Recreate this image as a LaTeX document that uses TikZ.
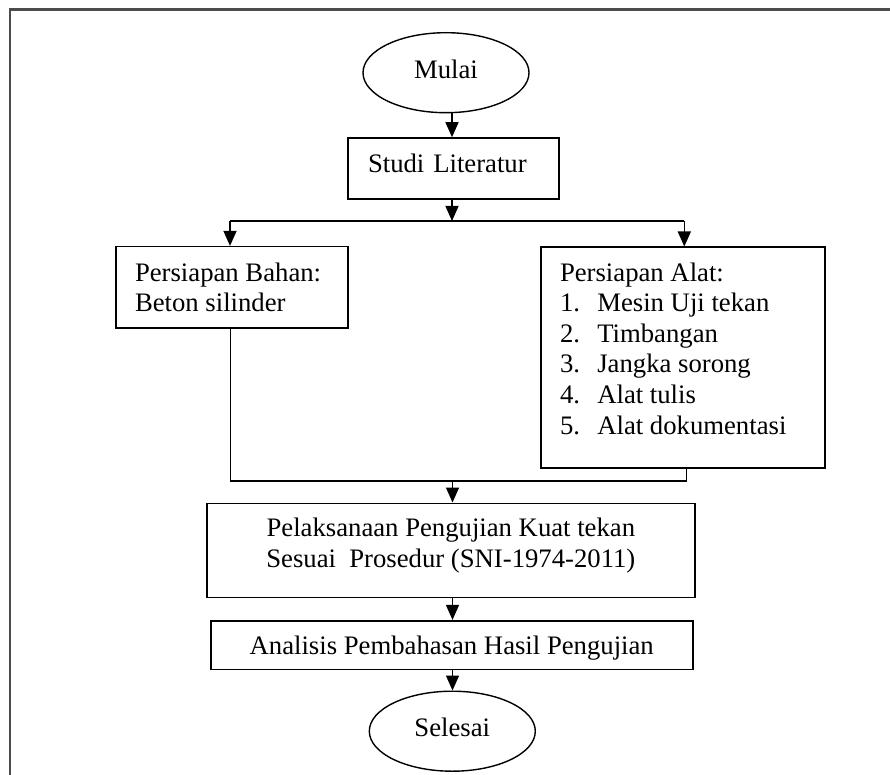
\documentclass[tikz,border=0pt]{standalone}
\usepackage{fontspec}
\setmainfont{Liberation Serif}
\usetikzlibrary{arrows.meta,shapes.geometric}
\begin{document}
\begin{tikzpicture}[x=1pt,y=-1pt,
  every node/.style={font=\fontsize{26.7pt}{30.6pt}\selectfont, inner sep=0pt, text=black},
  box/.style={draw, rectangle, line width=1.6pt},
  term/.style={draw, ellipse, line width=1.4pt, minimum width=166pt, minimum height=80pt,
               text height=18pt, text depth=7pt},
  arr/.style={line width=1.4pt, -{Triangle[width=13pt,length=15pt]}},
  link/.style={line width=1.4pt},
  frame/.style={line width=2.6pt, draw=black!70}]
\useasboundingbox (0,0) rectangle (890,775);

% page frame (open on the right and at the bottom)
\draw[frame] (890,9.3) -- (10,9.3) -- (10,775);

% terminals and process boxes
\node[term] (mulai) at (446,72.7) {Mulai};
\node[box, minimum width=211pt, minimum height=61pt, text width=171pt, align=left,
      text height=18pt, text depth=9pt] (studi) at (453.5,168.5) {Studi Literatur};
\node[box, minimum width=232.3pt, minimum height=81pt,
      text height=18pt, text depth=30.4pt] (bahan) at (231.85,287.2)
  {\parbox[t]{193.7pt}{\raggedright Persiapan Bahan:\\Beton silinder}};
\node[box, minimum width=284.3pt, minimum height=220.4pt,
      text height=18pt, text depth=171pt] (alat) at (682.85,357.5)
  {\parbox[t]{245.7pt}{\raggedright Persiapan Alat:\\
     \makebox[37.3pt][l]{1.}Mesin Uji tekan\\
     \makebox[37.3pt][l]{2.}Timbangan\\
     \makebox[37.3pt][l]{3.}Jangka sorong\\
     \makebox[37.3pt][l]{4.}Alat tulis\\
     \makebox[37.3pt][l]{5.}Alat dokumentasi}};
\node[box, minimum width=488.3pt, minimum height=94pt,
      text height=18pt, text depth=45.2pt] (uji) at (450.85,550.3)
  {\parbox[t]{470pt}{\centering Pelaksanaan Pengujian Kuat tekan\\Sesuai\ \ Prosedur (SNI-1974-2011)}};
\node[box, minimum width=482pt, minimum height=48.6pt,
      text height=18pt, text depth=0pt] (analisis) at (451.7,645) {Analisis Pembahasan Hasil Pengujian};
\node[term] (selesai) at (452.3,731.2) {Selesai};

% branching and merging points
\coordinate (j1) at (452,221);
\coordinate (jl) at (230,221);
\coordinate (jr) at (684.3,221);
\coordinate (ml) at (230.5,481);
\coordinate (mr) at (686.7,481);
\coordinate (j2) at (452.5,481);

% connectors
\draw[arr] (mulai.south -| j1) -- (j1 |- studi.north);
\draw[arr] (j1 |- studi.south) -- (j1);
\draw[link] (jl) -- (jr);
\draw[arr] (jl) -- (jl |- bahan.north);
\draw[arr] (jr) -- (jr |- alat.north);
\draw[link] (bahan.south -| ml) -- (ml) -- (mr) -- (alat.south -| mr);
\draw[arr] (j2) -- (j2 |- uji.north);
\draw[arr] (j2 |- uji.south) -- (j2 |- analisis.north);
\draw[arr] (j2 |- analisis.south) -- (j2 |- selesai.north);
\end{tikzpicture}
\end{document}
